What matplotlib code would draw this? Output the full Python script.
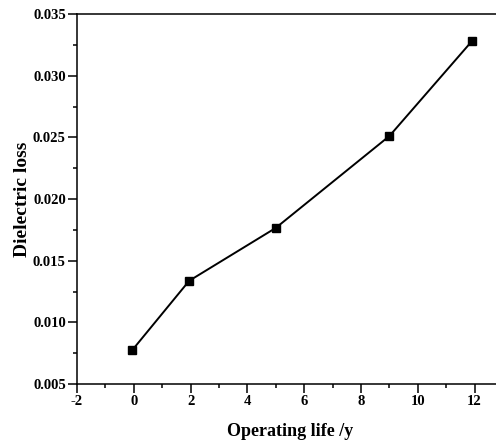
import numpy as np
import matplotlib.pyplot as plt
from matplotlib.ticker import MultipleLocator, FormatStrFormatter

# Data
life_years = [-0.05, 1.95, 5.0, 9.0, 11.9]
dielectric_loss = [0.00776, 0.01337, 0.01766, 0.02511, 0.03279]

x_ticks = [-2, 0, 2, 4, 6, 8, 10, 12]
y_ticks = [0.005, 0.010, 0.015, 0.020, 0.025, 0.030, 0.035]

plt.rcParams['font.family'] = ['Liberation Serif', 'DejaVu Serif']
plt.rcParams['font.weight'] = 'bold'
plt.rcParams['axes.unicode_minus'] = False

fig = plt.figure(figsize=(4.96, 4.45), dpi=100)
ax = fig.add_axes([0.1552, 0.137, 0.859, 0.8315])

ax.plot(life_years, dielectric_loss, color='black', linewidth=1.4,
        marker='s', markersize=6, markerfacecolor='black', markeredgecolor='black')

ax.set_xlim(-2, 13)
ax.set_ylim(0.005, 0.035)
ax.set_xticks(x_ticks)
ax.set_yticks(y_ticks)
ax.xaxis.set_minor_locator(MultipleLocator(1))
ax.yaxis.set_minor_locator(MultipleLocator(0.0025))
ax.yaxis.set_major_formatter(FormatStrFormatter('%.3f'))

ax.spines['right'].set_visible(False)
for s in ['left', 'bottom', 'top']:
    ax.spines[s].set_linewidth(1.1)

ax.tick_params(which='major', direction='out', length=6.5, width=1.1, labelsize=10.5, pad=1.5)
ax.tick_params(which='minor', direction='out', length=3, width=1.1)
ax.tick_params(top=False, right=False, which='both')
for lbl in ax.get_xticklabels() + ax.get_yticklabels():
    lbl.set_fontweight('bold')

ax.set_xlabel('Operating life /y', fontsize=13, fontweight='bold', labelpad=11)
ax.set_ylabel('Dielectric loss', fontsize=14, fontweight='bold', labelpad=1.5)

fig.savefig('out.png', dpi=100)
